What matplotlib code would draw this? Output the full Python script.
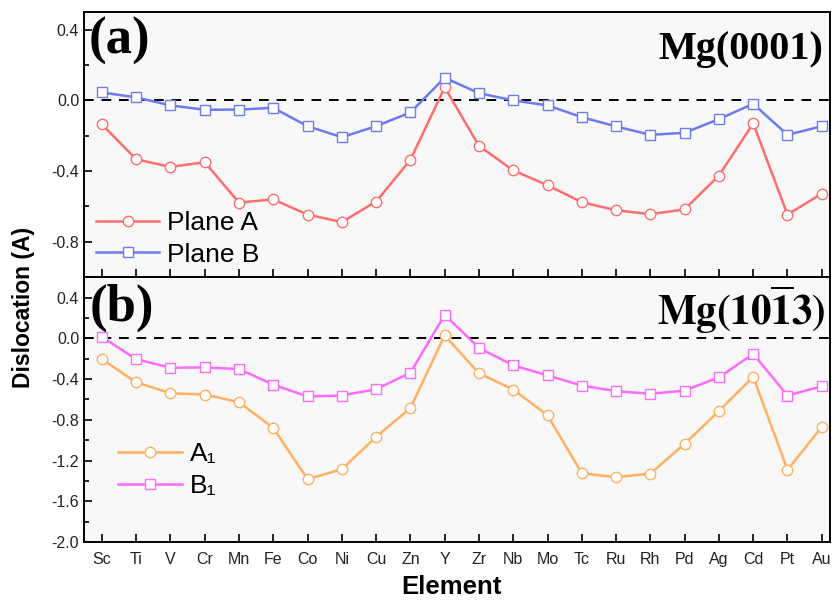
import matplotlib
matplotlib.use("Agg")
import matplotlib.pyplot as plt
from matplotlib.ticker import MultipleLocator

elements = ["Sc", "Ti", "V", "Cr", "Mn", "Fe", "Co", "Ni", "Cu", "Zn", "Y",
            "Zr", "Nb", "Mo", "Tc", "Ru", "Rh", "Pd", "Ag", "Cd", "Pt", "Au"]

plane_a = [-0.136, -0.333, -0.376, -0.350, -0.578, -0.560, -0.646, -0.688, -0.572, -0.336,
           0.074, -0.257, -0.396, -0.480, -0.576, -0.621, -0.644, -0.616, -0.425, -0.130,
           -0.646, -0.527]
plane_b = [0.045, 0.017, -0.028, -0.053, -0.052, -0.042, -0.146, -0.208, -0.146, -0.068,
           0.128, 0.041, 0.000, -0.028, -0.095, -0.147, -0.195, -0.183, -0.106, -0.019,
           -0.195, -0.146]
a1 = [-0.205, -0.432, -0.539, -0.552, -0.627, -0.880, -1.383, -1.286, -0.968, -0.685,
      0.029, -0.344, -0.503, -0.756, -1.325, -1.364, -1.328, -1.036, -0.714, -0.377,
      -1.292, -0.870]
b1 = [0.013, -0.205, -0.289, -0.286, -0.302, -0.455, -0.571, -0.562, -0.500, -0.338,
      0.230, -0.094, -0.266, -0.364, -0.464, -0.519, -0.545, -0.513, -0.383, -0.153,
      -0.562, -0.471]

plt.rcParams['mathtext.fontset'] = 'stix'
sans = ['Liberation Sans', 'DejaVu Sans']

c_a = '#FF6E6E'
c_b = '#6C7CF0'
c_a1 = '#FFB062'
c_b1 = '#FF6AFF'
bg = '#F8F8F8'
tick_c = '#222222'

fig = plt.figure(figsize=(8.32, 6.0), dpi=100)
ax1 = fig.add_axes([0.101, 0.538, 0.897, 0.442])
ax2 = fig.add_axes([0.101, 0.0967, 0.897, 0.4413])

x = list(range(len(elements)))

def style(ax):
    ax.set_facecolor(bg)
    ax.tick_params(direction='in', which='both', labelsize=11.5, width=1.2, labelcolor=tick_c)
    ax.tick_params(which='major', length=6)
    ax.tick_params(which='minor', length=3.5)
    ax.tick_params(axis='x', which='minor', bottom=False)
    for s in ax.spines.values():
        s.set_linewidth(1.4)
    ax.axhline(0, color='black', ls=(0, (5, 4)), lw=1.4, zorder=1)
    ax.set_xlim(-0.52, 21.25)
    ax.set_xticks(x)

mk = dict(markersize=7.5, markerfacecolor='white', markeredgewidth=1.0, lw=1.8, zorder=3)
ax1.plot(x, plane_a, color=c_a, marker='o', markeredgecolor=c_a, label='Plane A', **mk)
ax1.plot(x, plane_b, color=c_b, marker='s', markeredgecolor=c_b, label='Plane B', **mk)
ax2.plot(x, a1, color=c_a1, marker='o', markeredgecolor=c_a1, label='A\u2081', **mk)
ax2.plot(x, b1, color=c_b1, marker='s', markeredgecolor=c_b1, label='B\u2081', **mk)

style(ax1)
style(ax2)
ax1.set_ylim(-1.0, 0.5)
ax1.set_yticks([-0.8, -0.4, 0.0, 0.4])
ax1.yaxis.set_minor_locator(MultipleLocator(0.2))
ax1.set_yticklabels(['-0.8', '-0.4', '0.0', '0.4'], family=sans, fontsize=11.5)
ax1.set_xticklabels([])

ax2.set_ylim(-2.0, 0.6)
ax2.set_yticks([-2.0, -1.6, -1.2, -0.8, -0.4, 0.0, 0.4])
ax2.yaxis.set_minor_locator(MultipleLocator(0.2))
ax2.set_yticklabels(['-2.0', '-1.6', '-1.2', '-0.8', '-0.4', '0.0', '0.4'], family=sans, fontsize=11.5)
ax2.set_xticklabels(elements, family=sans, fontsize=11.5)
ax2.tick_params(axis='x', pad=7)

leg_kw = dict(frameon=False, handlelength=2.4, handletextpad=0.3, labelspacing=0.3,
              prop={'family': sans, 'size': 19})
ax1.legend(loc='lower left', bbox_to_anchor=(-0.016, -0.05), **leg_kw)
ax2.legend(loc='lower left', bbox_to_anchor=(0.014, 0.075), **leg_kw)

ax1.text(0.006, 0.98, '(a)', transform=ax1.transAxes, ha='left', va='top',
         family='Liberation Serif', fontweight='bold', fontsize=38)
ax2.text(0.008, 0.975, '(b)', transform=ax2.transAxes, ha='left', va='top',
         family='Liberation Serif', fontweight='bold', fontsize=38)
ax1.text(0.99, 0.93, 'Mg(0001)', transform=ax1.transAxes, ha='right', va='top',
         family='Liberation Serif', fontweight='bold', fontsize=29)
ax2.text(0.993, 0.975, r'$\mathbf{Mg(10\overline{1}3)}$', transform=ax2.transAxes,
         ha='right', va='top', fontsize=29.5)

fig.text(0.028, 0.488, 'Dislocation (A)', rotation=90, ha='center', va='center',
         family=sans, fontweight='bold', fontsize=16.5)
fig.text(0.542, 0.022, 'Element', ha='center', va='center',
         family=sans, fontweight='bold', fontsize=18.5)

fig.savefig('out.png', dpi=100)
